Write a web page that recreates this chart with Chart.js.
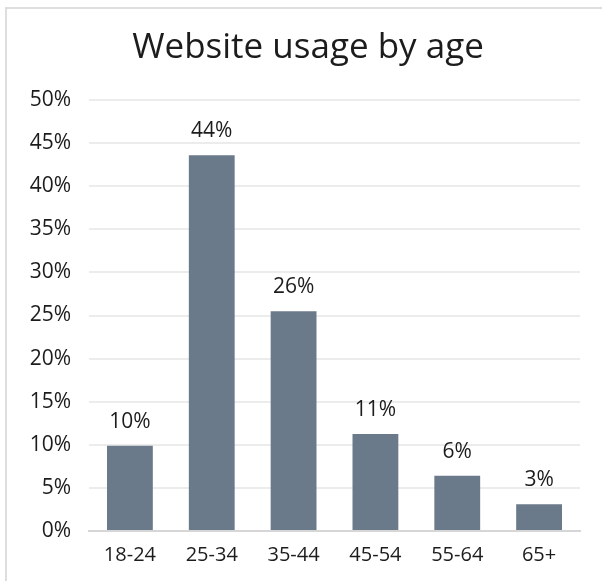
<!DOCTYPE html>
<html>
<head>
<meta charset="utf-8">
<script src="https://cdn.jsdelivr.net/npm/chart.js@4"></script>
<style>
	html, body { margin: 0; padding: 0; background: #fff; }
	#wrap { position: relative; width: 602px; height: 581px; overflow: hidden; }
	#frame { position: absolute; left: 5px; top: 7px; width: 700px; height: 700px; border-left: 2px solid #dedede; border-top: 2px solid #dedede; }
	#chart { position: absolute; left: 0; top: 0; }
</style>
</head>
<body>
<div id="wrap">
	<div id="frame"></div>
	<canvas id="chart" width="602" height="581"></canvas>
</div>
<script>
var chartTitle = 'Website usage by age';
var ageGroups = ['18-24', '25-34', '35-44', '45-54', '55-64', '65+'];
var usageShare = [9.9, 43.6, 25.5, 11.25, 6.4, 3.1];
var yTicks = [0, 5, 10, 15, 20, 25, 30, 35, 40, 45, 50];

var fontName = '"Open Sans", Lato, sans-serif';
var textColor = '#1c1c1c';

// title drawn by hand so the plot box can be placed freely
var titlePlugin = {
	id: 'handTitle',
	afterDraw: function (chart) {
		var ctx = chart.ctx;
		ctx.save();
		ctx.font = '35px ' + fontName;
		ctx.fillStyle = textColor;
		ctx.textAlign = 'center';
		ctx.textBaseline = 'alphabetic';
		ctx.fillText(chartTitle, 308, 58);
		ctx.restore();
	}
};

var valueLabels = {
	id: 'valueLabels',
	afterDatasetsDraw: function (chart) {
		var ctx = chart.ctx;
		var meta = chart.getDatasetMeta(0);
		ctx.save();
		ctx.font = '21px ' + fontName;
		ctx.fillStyle = textColor;
		ctx.textAlign = 'center';
		ctx.textBaseline = 'alphabetic';
		for (var i = 0; i < meta.data.length; i++) {
			var bar = meta.data[i];
			ctx.fillText(Math.round(usageShare[i]) + '%', bar.x, bar.y - 18);
		}
		ctx.restore();
	}
};

var chart = new Chart(document.getElementById('chart'), {
	type: 'bar',
	data: {
		labels: ageGroups,
		datasets: [{
			data: usageShare,
			backgroundColor: '#6b7a8a',
			borderWidth: 0,
			categoryPercentage: 1,
			barPercentage: 0.56
		}]
	},
	options: {
		responsive: false,
		animation: false,
		layout: { padding: { top: 100, right: 22, left: 0, bottom: 0 } },
		plugins: {
			legend: { display: false },
			title: { display: false },
			tooltip: { enabled: false }
		},
		scales: {
			x: {
				grid: { display: false, drawTicks: false },
				border: { display: true, color: '#d6d6d6', width: 2 },
				ticks: { color: textColor, font: { family: fontName, size: 20 }, padding: 12 },
				afterFit: function (scale) { scale.height = 50; }
			},
			y: {
				min: 0,
				max: 50,
				afterBuildTicks: function (scale) {
					scale.ticks = yTicks.map(function (v) { return { value: v }; });
				},
				grid: { color: '#ececec', lineWidth: 2, drawTicks: false },
				border: { display: false },
				ticks: {
					color: textColor,
					font: { family: fontName, size: 21 },
					padding: 18,
					callback: function (v) { return v + '%'; }
				},
				afterFit: function (scale) { scale.width = 89; }
			}
		}
	},
	plugins: [titlePlugin, valueLabels]
});
</script>
</body>
</html>
